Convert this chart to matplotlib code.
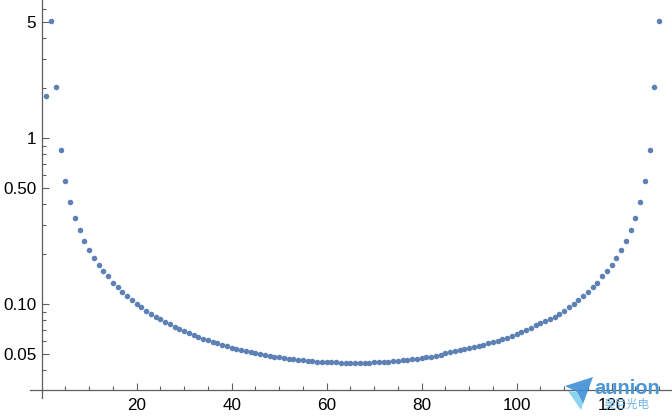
import matplotlib
matplotlib.use("Agg")
import matplotlib.pyplot as plt
from matplotlib.patches import Polygon
from matplotlib.ticker import FixedLocator, NullFormatter

# Point index (1..130) and plotted values (log scale)
x_values = list(range(1, 131))
y_values = [
    1.80, 5.07, 2.03, 0.850, 0.553, 0.414, 0.332, 0.281, 0.241, 0.213,
    0.191, 0.173, 0.159, 0.147, 0.135, 0.1276, 0.1186, 0.1126, 0.1066, 0.1008,
    0.0967, 0.0915, 0.0878, 0.0842, 0.0816, 0.0786, 0.0761, 0.0733, 0.0713, 0.0694,
    0.0675, 0.0657, 0.0639, 0.0621, 0.0607, 0.0596, 0.0588, 0.0572, 0.0564, 0.0548,
    0.0541, 0.0533, 0.0526, 0.0519, 0.0512, 0.0505, 0.0498, 0.0491, 0.0484, 0.0482,
    0.0475, 0.0471, 0.0469, 0.0464, 0.0462, 0.0458, 0.0456, 0.0452, 0.0452, 0.0450,
    0.0448, 0.0447, 0.0446, 0.0446, 0.0446, 0.0446, 0.0446, 0.0446, 0.0446, 0.0448,
    0.0450, 0.0452, 0.0453, 0.0454, 0.0458, 0.0461, 0.0464, 0.0467, 0.0469, 0.0473,
    0.0480, 0.0484, 0.0489, 0.0498, 0.0507, 0.0514, 0.0522, 0.0529, 0.0536, 0.0544,
    0.0551, 0.0559, 0.0567, 0.0583, 0.0591, 0.0599, 0.0616, 0.0625, 0.0642, 0.0660,
    0.0679, 0.0698, 0.0717, 0.0747, 0.0768, 0.0797, 0.0816, 0.0842, 0.0878, 0.0915,
    0.0967, 0.1008, 0.1066, 0.1126, 0.1186, 0.1276, 0.135, 0.147, 0.159, 0.173,
    0.191, 0.213, 0.241, 0.281, 0.332, 0.414, 0.553, 0.850, 2.03, 5.07,
]

x_major = [20, 40, 60, 80, 100, 120]
x_minor = [5, 10, 15, 25, 30, 35, 45, 50, 55, 65, 70, 75, 85, 90, 95,
           105, 110, 115, 125, 130]
y_major = [0.05, 0.1, 0.5, 1, 5]
y_major_labels = ["0.05", "0.10", "0.50", "1", "5"]
y_minor = [0.04, 0.06, 0.07, 0.08, 0.09, 0.2, 0.3, 0.4, 0.6, 0.7, 0.8, 0.9,
           2, 3, 4, 6]

W, H = 672, 417
fig = plt.figure(figsize=(W / 100, H / 100), dpi=100)
ax = fig.add_axes([30 / W, 19 / H, (W - 30) / W, 398 / H])
ax.patch.set_alpha(0)

ax.plot(x_values, y_values, "o", color="#5E81B5", ms=4.0, mec="none")

ax.set_yscale("log")
ax.set_xlim(-2.46, 132.7)
ax.set_ylim(0.02733, 6.76)

axis_color = "#5f5f5f"
for side in ["top", "right"]:
    ax.spines[side].set_visible(False)
ax.spines["left"].set_position(("data", 0))
ax.spines["bottom"].set_position(("data", 0.0305))
for side in ["left", "bottom"]:
    ax.spines[side].set_color(axis_color)
    ax.spines[side].set_linewidth(0.9)

ax.xaxis.set_major_locator(FixedLocator(x_major))
ax.xaxis.set_minor_locator(FixedLocator(x_minor))
ax.yaxis.set_major_locator(FixedLocator(y_major))
ax.yaxis.set_minor_locator(FixedLocator(y_minor))
ax.set_yticklabels(y_major_labels)
ax.yaxis.set_minor_formatter(NullFormatter())
ax.xaxis.set_minor_formatter(NullFormatter())

ax.tick_params(which="both", direction="in", color=axis_color, width=0.8,
               labelsize=12.3, labelcolor="black")
ax.tick_params(which="major", length=5)
ax.tick_params(which="minor", length=3)
ax.tick_params(axis="x", which="major", pad=6)
ax.tick_params(axis="y", which="major", pad=4)
for lab in ax.get_xticklabels() + ax.get_yticklabels():
    lab.set_fontfamily("Liberation Sans")

# watermark logo in the lower right corner
def fig_pt(px, py):
    return (px / W, 1 - py / H)

plane_dark = Polygon([fig_pt(565, 386), fig_pt(593, 377), fig_pt(583, 404),
                      fig_pt(577, 392)], closed=True, transform=fig.transFigure,
                     facecolor="#3F8FD4", edgecolor="none", alpha=0.9)
plane_light = Polygon([fig_pt(568, 391), fig_pt(577, 392), fig_pt(583, 404),
                       fig_pt(581, 410)], closed=True, transform=fig.transFigure,
                      facecolor="#7FD0F0", edgecolor="none", alpha=0.9)
fig.patches.extend([plane_dark, plane_light])
fig.text(594 / W, 1 - 394 / H, "aunion", fontsize=14.5, fontweight="bold",
         color="#4A97D8", family="Liberation Sans", va="baseline", ha="left")
fig.text(627 / W, 1 - 404 / H, "奥尼光电", fontsize=8.3, color="#6EB4E6",
         family=["Noto Sans CJK SC", "DejaVu Sans"], va="center", ha="center")

fig.savefig("out.png", dpi=100)
